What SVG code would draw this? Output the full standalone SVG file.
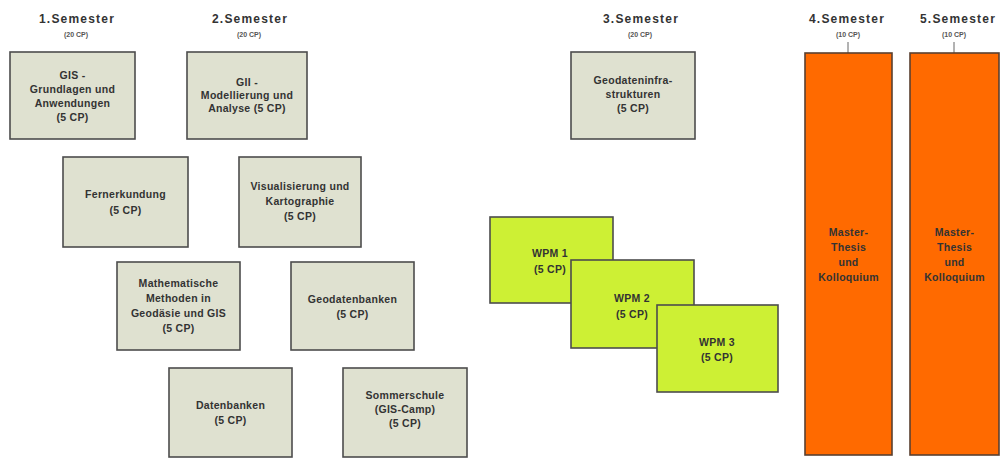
<svg xmlns="http://www.w3.org/2000/svg" width="1001" height="462" viewBox="0 0 1001 462">
<style>
  text { font-family: "Liberation Sans", Arial, sans-serif; fill: #2b2b2b; text-anchor: middle; }
  .hd { font-size: 12px; font-weight: bold; letter-spacing: 1.2px; fill: #333; }
  .cp { font-size: 7px; font-weight: bold; fill: #555; }
  .t { font-size: 10.5px; font-weight: bold; letter-spacing: 0.3px; fill: #333; }
  .grey { fill: #DFE1D0; stroke: #4d4d4d; stroke-width: 1.6; }
  .green { fill: #CDF034; stroke: #4d4d4d; stroke-width: 1.6; }
  .orange { fill: #FF6A00; stroke: #5a4030; stroke-width: 1.6; }
  .tick { stroke: #666; stroke-width: 1; }
</style>
<rect width="1001" height="462" fill="#ffffff"/>

<g id="headers">
  <text class="hd" x="77" y="23">1.Semester</text>
  <text class="cp" x="76" y="37">(20 CP)</text>
  <text class="hd" x="250" y="23">2.Semester</text>
  <text class="cp" x="249" y="37">(20 CP)</text>
  <text class="hd" x="641" y="23">3.Semester</text>
  <text class="cp" x="640" y="37">(20 CP)</text>
  <text class="hd" x="847" y="23">4.Semester</text>
  <text class="cp" x="848" y="37">(10 CP)</text>
  <text class="hd" x="958" y="23">5.Semester</text>
  <text class="cp" x="954" y="37">(10 CP)</text>
</g>

<g id="connectors">
  <line class="tick" x1="848" y1="42" x2="848" y2="53"/>
  <line class="tick" x1="954" y1="42" x2="954" y2="53"/>
</g>

<g id="gis-grundlagen">
  <rect class="grey" x="10" y="52" width="125" height="87"/>
  <text class="t" x="72.5" y="79">GIS -</text>
  <text class="t" x="72.5" y="93">Grundlagen und</text>
  <text class="t" x="72.5" y="107">Anwendungen</text>
  <text class="t" x="72.5" y="121">(5 CP)</text>
</g>

<g id="gii-modellierung">
  <rect class="grey" x="187" y="52" width="120" height="87"/>
  <text class="t" x="247" y="86">GII -</text>
  <text class="t" x="247" y="99">Modellierung und</text>
  <text class="t" x="247" y="112">Analyse (5 CP)</text>
</g>

<g id="fernerkundung">
  <rect class="grey" x="63" y="157" width="125" height="90"/>
  <text class="t" x="125.5" y="198">Fernerkundung</text>
  <text class="t" x="125.5" y="214">(5 CP)</text>
</g>

<g id="visualisierung">
  <rect class="grey" x="239" y="157" width="122" height="90"/>
  <text class="t" x="300" y="190">Visualisierung und</text>
  <text class="t" x="300" y="205">Kartographie</text>
  <text class="t" x="300" y="220">(5 CP)</text>
</g>

<g id="mathematische-methoden">
  <rect class="grey" x="117" y="262" width="123" height="88"/>
  <text class="t" x="178.5" y="287">Mathematische</text>
  <text class="t" x="178.5" y="302">Methoden in</text>
  <text class="t" x="178.5" y="317">Geodäsie und GIS</text>
  <text class="t" x="178.5" y="332">(5 CP)</text>
</g>

<g id="geodatenbanken">
  <rect class="grey" x="291" y="262" width="123" height="88"/>
  <text class="t" x="352.5" y="303">Geodatenbanken</text>
  <text class="t" x="352.5" y="318">(5 CP)</text>
</g>

<g id="datenbanken">
  <rect class="grey" x="169" y="368" width="123" height="89"/>
  <text class="t" x="230.5" y="409">Datenbanken</text>
  <text class="t" x="230.5" y="424">(5 CP)</text>
</g>

<g id="sommerschule">
  <rect class="grey" x="343" y="368" width="124" height="89"/>
  <text class="t" x="405" y="399">Sommerschule</text>
  <text class="t" x="405" y="413">(GIS-Camp)</text>
  <text class="t" x="405" y="427">(5 CP)</text>
</g>

<g id="geodateninfrastrukturen">
  <rect class="grey" x="571" y="52" width="124" height="87"/>
  <text class="t" x="633" y="84">Geodateninfra-</text>
  <text class="t" x="633" y="98">strukturen</text>
  <text class="t" x="633" y="112">(5 CP)</text>
</g>

<g id="wpm1">
  <rect class="green" x="490" y="217" width="123" height="86"/>
  <text class="t" x="550" y="257">WPM 1</text>
  <text class="t" x="550" y="273">(5 CP)</text>
</g>

<g id="wpm2">
  <rect class="green" x="571" y="260" width="123" height="88"/>
  <text class="t" x="632" y="302">WPM 2</text>
  <text class="t" x="632" y="318">(5 CP)</text>
</g>

<g id="wpm3">
  <rect class="green" x="657" y="305" width="121" height="87"/>
  <text class="t" x="717" y="346">WPM 3</text>
  <text class="t" x="717" y="361">(5 CP)</text>
</g>

<g id="master-thesis-4">
  <rect class="orange" x="805" y="53" width="87" height="402"/>
  <text class="t" x="848.5" y="236">Master-</text>
  <text class="t" x="848.5" y="251">Thesis</text>
  <text class="t" x="848.5" y="266">und</text>
  <text class="t" x="848.5" y="281">Kolloquium</text>
</g>

<g id="master-thesis-5">
  <rect class="orange" x="910" y="53" width="89" height="402"/>
  <text class="t" x="954.5" y="236">Master-</text>
  <text class="t" x="954.5" y="251">Thesis</text>
  <text class="t" x="954.5" y="266">und</text>
  <text class="t" x="954.5" y="281">Kolloquium</text>
</g>
</svg>
